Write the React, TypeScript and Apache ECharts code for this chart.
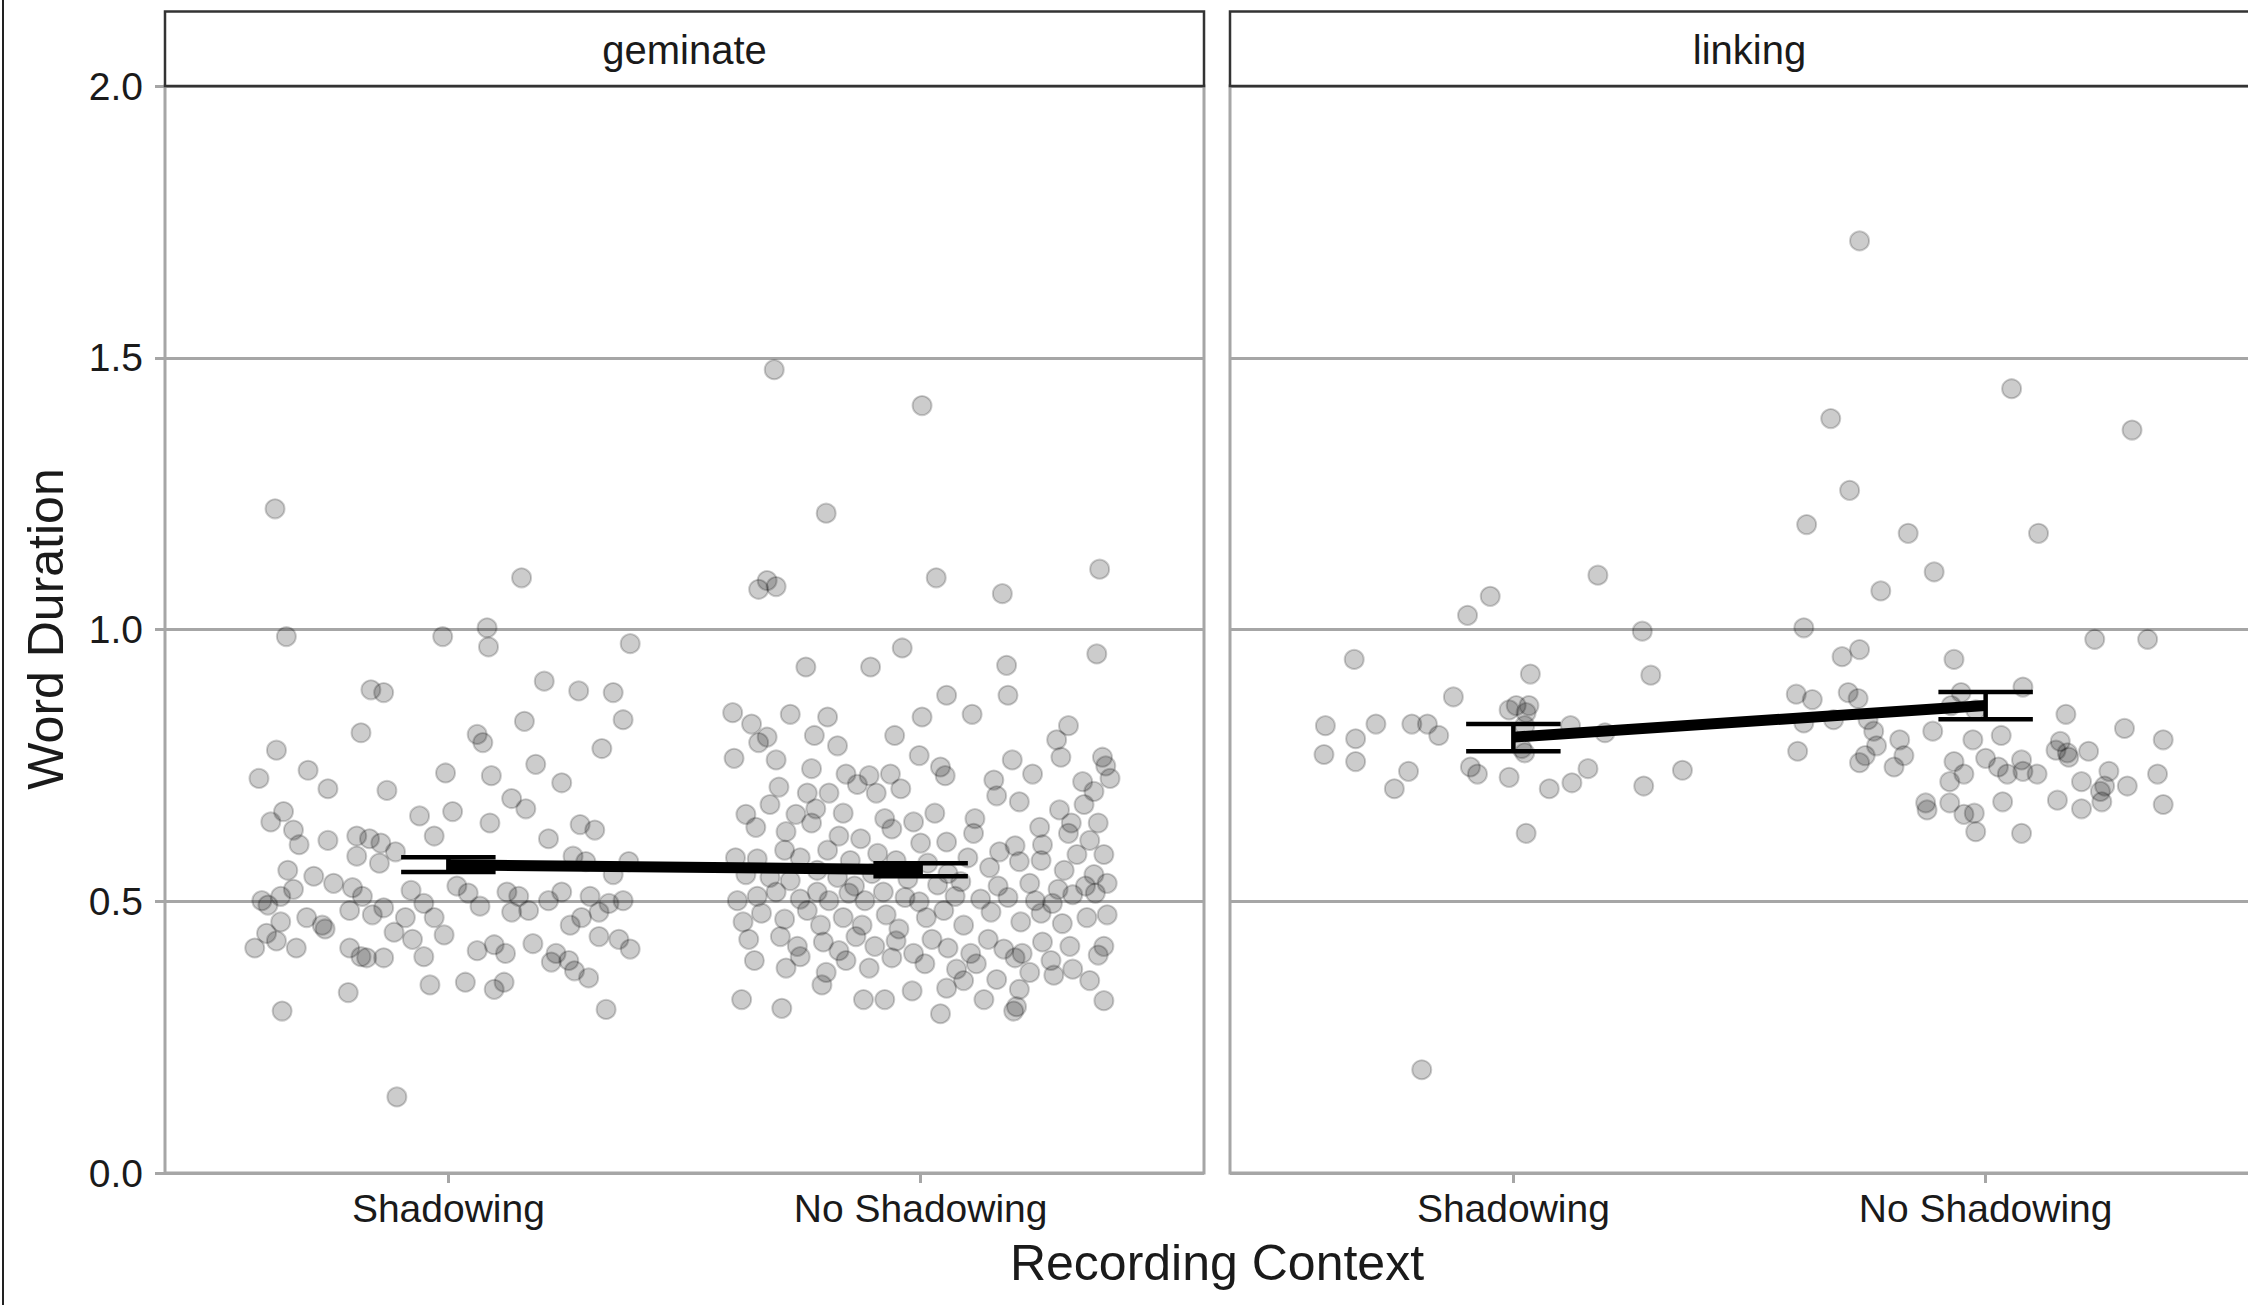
import React, { useEffect, useRef } from "react";
import * as echarts from "echarts";

const categories = ["Shadowing", "No Shadowing"];
const facets = ["geminate", "linking"];
const yTicks = [0, 0.5, 1, 1.5, 2];
const xAxisTitle = "Recording Context";
const yAxisTitle = "Word Duration";

// [jitter offset from category, word duration]
const geminateShadowing: number[][] = [
  [-0.367, 1.222], [-0.343, 0.987], [0.155, 1.095], [0.082, 1.003], [0.085, 0.968], [-0.012, 0.987],
  [0.385, 0.974], [0.203, 0.905], [-0.164, 0.889], [-0.137, 0.884], [0.276, 0.887], [0.349, 0.884],
  [0.161, 0.831], [0.37, 0.834], [-0.185, 0.81], [0.061, 0.807], [0.073, 0.792], [0.325, 0.781],
  [-0.364, 0.778], [-0.401, 0.726], [-0.297, 0.741], [-0.006, 0.736], [0.185, 0.752], [-0.255, 0.707],
  [0.24, 0.718], [0.091, 0.731], [-0.13, 0.704], [0.134, 0.689], [0.164, 0.67], [-0.376, 0.646],
  [-0.349, 0.665], [-0.328, 0.631], [-0.061, 0.657], [0.009, 0.665], [0.088, 0.644], [0.279, 0.641],
  [0.31, 0.631], [-0.316, 0.604], [-0.255, 0.612], [-0.194, 0.62], [-0.167, 0.615], [-0.143, 0.607],
  [-0.03, 0.62], [0.212, 0.615], [0.382, 0.573], [0.291, 0.573], [-0.34, 0.557], [-0.285, 0.546],
  [-0.243, 0.533], [-0.194, 0.583], [-0.146, 0.57], [-0.112, 0.591], [0.264, 0.583], [0.349, 0.549],
  [-0.355, 0.509], [-0.395, 0.501], [-0.382, 0.493], [-0.328, 0.522], [-0.203, 0.525], [-0.182, 0.509],
  [-0.079, 0.52], [-0.052, 0.496], [0.018, 0.528], [0.042, 0.515], [0.067, 0.491], [0.124, 0.517],
  [0.149, 0.509], [0.17, 0.483], [0.212, 0.501], [0.24, 0.517], [0.3, 0.509], [0.319, 0.48],
  [0.34, 0.496], [0.37, 0.501], [-0.355, 0.462], [-0.3, 0.47], [-0.267, 0.456], [-0.209, 0.483],
  [-0.161, 0.475], [-0.137, 0.488], [-0.091, 0.47], [-0.03, 0.47], [0.134, 0.48], [0.258, 0.456],
  [0.282, 0.47], [-0.41, 0.414], [-0.385, 0.441], [-0.364, 0.427], [-0.322, 0.414], [-0.261, 0.449],
  [-0.209, 0.414], [-0.185, 0.398], [-0.115, 0.443], [-0.076, 0.43], [-0.009, 0.438], [0.061, 0.409],
  [0.097, 0.42], [0.121, 0.404], [0.179, 0.422], [0.228, 0.404], [0.255, 0.391], [0.267, 0.372],
  [0.319, 0.435], [0.361, 0.43], [0.385, 0.412], [-0.212, 0.332], [-0.173, 0.396], [-0.137, 0.396],
  [-0.052, 0.398], [-0.039, 0.346], [0.036, 0.351], [0.097, 0.338], [0.118, 0.351], [0.218, 0.388],
  [0.297, 0.359], [0.334, 0.301], [-0.352, 0.298], [-0.109, 0.14],
];

const geminateNoShadowing: number[][] = [
  [-0.31, 1.478], [0.003, 1.412], [-0.2, 1.214], [-0.343, 1.074], [-0.325, 1.09], [-0.306, 1.079],
  [0.033, 1.095], [0.379, 1.111], [0.173, 1.066], [-0.243, 0.931], [-0.106, 0.931], [-0.039, 0.966],
  [0.182, 0.934], [0.373, 0.955], [-0.398, 0.847], [-0.358, 0.826], [-0.276, 0.844], [-0.197, 0.839],
  [0.003, 0.839], [0.055, 0.879], [0.109, 0.844], [0.185, 0.879], [0.313, 0.823], [-0.343, 0.792],
  [-0.325, 0.802], [-0.225, 0.805], [-0.055, 0.805], [-0.176, 0.786], [-0.003, 0.768], [0.042, 0.747],
  [0.052, 0.731], [0.155, 0.723], [0.288, 0.797], [0.297, 0.765], [0.385, 0.765], [0.392, 0.749],
  [0.401, 0.726], [-0.395, 0.763], [-0.306, 0.76], [-0.231, 0.744], [-0.158, 0.734], [-0.109, 0.731],
  [-0.064, 0.734], [0.194, 0.76], [0.237, 0.734], [0.343, 0.72], [0.367, 0.702], [-0.3, 0.71],
  [-0.24, 0.699], [-0.194, 0.699], [-0.134, 0.715], [-0.094, 0.699], [-0.042, 0.707], [0.161, 0.694],
  [0.209, 0.683], [0.294, 0.668], [0.346, 0.678], [-0.37, 0.66], [-0.319, 0.678], [-0.264, 0.66],
  [-0.222, 0.67], [-0.164, 0.662], [-0.076, 0.652], [-0.015, 0.646], [0.03, 0.662], [0.115, 0.652],
  [0.252, 0.636], [0.319, 0.644], [0.376, 0.644], [-0.349, 0.636], [-0.285, 0.628], [-0.231, 0.644],
  [-0.173, 0.62], [-0.127, 0.615], [-0.061, 0.633], [0.0, 0.607], [0.055, 0.609], [0.112, 0.625],
  [0.167, 0.591], [0.2, 0.602], [0.258, 0.604], [0.313, 0.625], [0.358, 0.612], [0.388, 0.586],
  [-0.392, 0.58], [-0.346, 0.578], [-0.288, 0.594], [-0.255, 0.58], [-0.197, 0.594], [-0.149, 0.575],
  [-0.091, 0.588], [-0.052, 0.575], [0.015, 0.57], [0.058, 0.551], [0.1, 0.58], [0.146, 0.562],
  [0.209, 0.573], [0.255, 0.575], [0.304, 0.557], [0.331, 0.586], [0.367, 0.549], [-0.37, 0.549],
  [-0.319, 0.544], [-0.276, 0.538], [-0.219, 0.557], [-0.176, 0.544], [-0.14, 0.528], [-0.103, 0.551],
  [-0.027, 0.541], [0.036, 0.53], [0.085, 0.536], [0.164, 0.528], [0.231, 0.533], [0.291, 0.522],
  [0.349, 0.528], [0.395, 0.533], [-0.388, 0.501], [-0.346, 0.509], [-0.306, 0.517], [-0.255, 0.504],
  [-0.219, 0.517], [-0.194, 0.501], [-0.152, 0.515], [-0.118, 0.501], [-0.079, 0.517], [-0.033, 0.507],
  [-0.003, 0.499], [0.073, 0.509], [0.127, 0.504], [0.185, 0.507], [0.243, 0.501], [0.279, 0.496],
  [0.322, 0.512], [0.37, 0.515], [-0.376, 0.462], [-0.337, 0.478], [-0.288, 0.467], [-0.24, 0.483],
  [-0.212, 0.456], [-0.164, 0.47], [-0.124, 0.456], [-0.073, 0.475], [-0.046, 0.449], [0.012, 0.47],
  [0.049, 0.483], [0.091, 0.456], [0.149, 0.48], [0.212, 0.462], [0.255, 0.478], [0.3, 0.459],
  [0.352, 0.47], [0.395, 0.475], [-0.364, 0.43], [-0.297, 0.435], [-0.261, 0.417], [-0.206, 0.425],
  [-0.173, 0.409], [-0.137, 0.435], [-0.097, 0.417], [-0.052, 0.427], [-0.015, 0.404], [0.024, 0.43],
  [0.058, 0.414], [0.106, 0.404], [0.143, 0.43], [0.176, 0.412], [0.215, 0.404], [0.258, 0.425],
  [0.316, 0.417], [0.376, 0.401], [0.388, 0.417], [-0.352, 0.391], [-0.285, 0.377], [-0.255, 0.398],
  [-0.2, 0.369], [-0.158, 0.391], [-0.109, 0.377], [-0.061, 0.396], [0.009, 0.385], [0.055, 0.34],
  [0.076, 0.375], [0.118, 0.385], [0.161, 0.356], [0.2, 0.396], [0.231, 0.369], [0.276, 0.391],
  [0.322, 0.375], [0.358, 0.354], [-0.379, 0.319], [-0.294, 0.303], [-0.209, 0.346], [-0.121, 0.319],
  [-0.076, 0.319], [-0.018, 0.335], [0.042, 0.293], [0.091, 0.354], [0.134, 0.319], [0.197, 0.298],
  [0.209, 0.338], [0.203, 0.306], [0.282, 0.364], [0.388, 0.317],
];

const linkingShadowing: number[][] = [
  [-0.194, 0.19], [-0.337, 0.945], [-0.097, 1.026], [-0.049, 1.061], [0.179, 1.1], [0.273, 0.997],
  [0.291, 0.916], [0.036, 0.918], [-0.127, 0.876], [-0.398, 0.823], [-0.334, 0.799], [-0.291, 0.826],
  [-0.215, 0.826], [-0.182, 0.826], [-0.158, 0.805], [-0.401, 0.77], [-0.334, 0.757], [-0.252, 0.707],
  [-0.222, 0.739], [-0.091, 0.747], [-0.076, 0.734], [-0.009, 0.852], [0.006, 0.86], [0.027, 0.847],
  [0.033, 0.86], [0.024, 0.823], [0.018, 0.781], [-0.009, 0.728], [0.076, 0.707], [0.027, 0.625],
  [0.121, 0.823], [0.158, 0.744], [0.194, 0.81], [0.276, 0.712], [0.358, 0.741], [0.124, 0.718],
  [0.024, 0.773],
];

const linkingNoShadowing: number[][] = [
  [-0.267, 1.715], [-0.328, 1.388], [-0.288, 1.256], [0.055, 1.443], [0.31, 1.367], [-0.379, 1.193],
  [-0.164, 1.177], [0.112, 1.177], [-0.109, 1.106], [-0.222, 1.071], [-0.385, 1.003], [-0.304, 0.95],
  [-0.267, 0.963], [0.231, 0.982], [0.343, 0.982], [-0.067, 0.945], [-0.401, 0.881], [-0.367, 0.871],
  [-0.291, 0.884], [-0.27, 0.873], [-0.249, 0.834], [-0.237, 0.813], [-0.231, 0.786], [-0.255, 0.768],
  [-0.267, 0.755], [-0.398, 0.776], [-0.385, 0.828], [-0.322, 0.834], [-0.182, 0.797], [-0.173, 0.768],
  [-0.112, 0.813], [-0.073, 0.86], [-0.052, 0.884], [-0.021, 0.852], [-0.027, 0.797], [0.0, 0.763],
  [0.033, 0.805], [0.076, 0.76], [0.079, 0.894], [0.158, 0.794], [0.176, 0.765], [0.17, 0.844],
  [0.218, 0.776], [0.294, 0.818], [0.376, 0.797], [-0.194, 0.747], [-0.127, 0.681], [-0.076, 0.72],
  [-0.046, 0.734], [-0.067, 0.757], [-0.124, 0.668], [-0.024, 0.662], [0.027, 0.747], [0.046, 0.734],
  [0.079, 0.739], [0.109, 0.734], [0.149, 0.778], [0.173, 0.773], [0.203, 0.72], [0.252, 0.712],
  [0.3, 0.712], [0.261, 0.739], [0.364, 0.734], [0.376, 0.678], [0.246, 0.683], [0.203, 0.67],
  [0.152, 0.686], [0.243, 0.702], [-0.021, 0.628], [0.076, 0.625], [0.036, 0.683], [-0.046, 0.66],
  [-0.076, 0.681],
];

// mean and error bar bounds per category (Shadowing, No Shadowing)
const geminateMean = [0.567, 0.558];
const geminateLow = [0.554, 0.546];
const geminateHigh = [0.581, 0.570];
const linkingMean = [0.802, 0.860];
const linkingLow = [0.776, 0.835];
const linkingHigh = [0.826, 0.885];

const FONT = "'Liberation Sans', Arial, Helvetica, sans-serif";
const TEXT = "#1a1a1a";
const GRIDC = "#a6a6a6";
const CAP_HALF = 0.1;

export default function App() {
  const ref = useRef<HTMLDivElement>(null);

  useEffect(() => {
    if (!ref.current) return;
    const chart = echarts.init(ref.current, undefined, { renderer: "svg" });

    const panelW = 1039;
    const panelTop = 86;
    const panelH = 1087;
    const lefts = [165, 1230];

    const toPoints = (arr: number[][], cat: number) =>
      arr.map((p) => [cat + p[0], p[1]]);

    const groups = [
      [geminateShadowing, geminateNoShadowing],
      [linkingShadowing, linkingNoShadowing],
    ];
    const means = [geminateMean, linkingMean];
    const lows = [geminateLow, linkingLow];
    const highs = [geminateHigh, linkingHigh];

    const series: any[] = [];
    groups.forEach((g, gi) => {
      g.forEach((arr, ci) => {
        series.push({
          type: "scatter",
          xAxisIndex: gi,
          yAxisIndex: gi,
          data: toPoints(arr, ci + 1),
          symbol: "circle",
          symbolSize: 19,
          itemStyle: {
            color: "rgba(0,0,0,0.2)",
            borderColor: "rgba(0,0,0,0.2)",
            borderWidth: 2,
            opacity: 1,
          },
          z: 2,
          silent: true,
        });
      });
      series.push({
        type: "custom",
        xAxisIndex: gi,
        yAxisIndex: gi,
        data: categories.map((_, ci) => [ci + 1, lows[gi][ci], highs[gi][ci]]),
        encode: { x: 0, y: [1, 2] },
        z: 5,
        silent: true,
        renderItem: (params: any, api: any) => {
          const x = api.value(0);
          const lo = api.value(1);
          const hi = api.value(2);
          const pLo = api.coord([x, lo]);
          const pHi = api.coord([x, hi]);
          const pL = api.coord([x - CAP_HALF, lo]);
          const pR = api.coord([x + CAP_HALF, lo]);
          const half = (pR[0] - pL[0]) / 2;
          const style = { stroke: "#000", lineWidth: 4.5, fill: null };
          return {
            type: "group",
            children: [
              { type: "line", shape: { x1: pLo[0], y1: pLo[1], x2: pHi[0], y2: pHi[1] }, style },
              { type: "line", shape: { x1: pLo[0] - half, y1: pLo[1], x2: pLo[0] + half, y2: pLo[1] }, style },
              { type: "line", shape: { x1: pHi[0] - half, y1: pHi[1], x2: pHi[0] + half, y2: pHi[1] }, style },
            ],
          };
        },
      });
      series.push({
        type: "line",
        xAxisIndex: gi,
        yAxisIndex: gi,
        data: categories.map((_, ci) => [ci + 1, means[gi][ci]]),
        symbol: "none",
        lineStyle: { color: "#000", width: 11 },
        z: 6,
        silent: true,
      });
    });

    const graphic: any[] = [
      {
        type: "line",
        shape: { x1: 3, y1: 0, x2: 3, y2: 1305 },
        style: { stroke: "#222", lineWidth: 2 },
        z: 100,
      },
      {
        type: "text",
        x: 1217,
        y: 1263,
        style: {
          text: xAxisTitle,
          font: `50px ${FONT}`,
          fill: TEXT,
          textAlign: "center",
          textVerticalAlign: "middle",
        },
        z: 100,
      },
      {
        type: "text",
        x: 46,
        y: 629,
        rotation: Math.PI / 2,
        style: {
          text: yAxisTitle,
          font: `50px ${FONT}`,
          fill: TEXT,
          textAlign: "center",
          textVerticalAlign: "middle",
        },
        z: 100,
      },
    ];
    facets.forEach((f, i) => {
      graphic.push({
        type: "rect",
        shape: { x: lefts[i], y: 11.5, width: panelW, height: panelTop - 11.5 },
        style: { fill: "#fff", stroke: "#333", lineWidth: 2.5 },
        z: 100,
      });
      graphic.push({
        type: "text",
        x: lefts[i] + panelW / 2,
        y: 50,
        style: {
          text: f,
          font: `40px ${FONT}`,
          fill: TEXT,
          textAlign: "center",
          textVerticalAlign: "middle",
        },
        z: 101,
      });
    });

    const option: any = {
      animation: false,
      backgroundColor: "#fff",
      grid: lefts.map((l) => ({
        left: l,
        top: panelTop,
        width: panelW,
        height: panelH,
        show: true,
        borderColor: GRIDC,
        borderWidth: 3,
        backgroundColor: "transparent",
        containLabel: false,
      })),
      xAxis: lefts.map((_, i) => ({
        gridIndex: i,
        type: "value",
        min: 0.4,
        max: 2.6,
        splitLine: { show: false },
        axisLine: { show: false },
        axisTick: {
          show: true,
          customValues: [1, 2],
          length: 10,
          lineStyle: { color: GRIDC, width: 3 },
        },
        axisLabel: {
          customValues: [1, 2],
          formatter: (v: number) => categories[Math.round(v) - 1] ?? "",
          fontSize: 39,
          fontFamily: FONT,
          color: TEXT,
          margin: 16,
        },
      })),
      yAxis: lefts.map((_, i) => ({
        gridIndex: i,
        type: "value",
        min: yTicks[0],
        max: yTicks[yTicks.length - 1],
        interval: 0.5,
        splitLine: { show: true, lineStyle: { color: GRIDC, width: 3 } },
        axisLine: { show: false },
        axisTick: {
          show: i === 0,
          length: 10,
          lineStyle: { color: GRIDC, width: 3 },
        },
        axisLabel: {
          show: i === 0,
          formatter: (v: number) => v.toFixed(1),
          fontSize: 39,
          fontFamily: FONT,
          color: TEXT,
          margin: 22,
        },
      })),
      series,
      graphic,
    };

    chart.setOption(option);
    return () => {
      chart.dispose();
    };
  }, []);

  return (
    <div
      style={{
        position: "absolute",
        left: 0,
        top: 0,
        width: 2248,
        height: 1305,
        overflow: "hidden",
        background: "#fff",
      }}
    >
      <div ref={ref} style={{ width: 2300, height: 1305 }} />
    </div>
  );
}
